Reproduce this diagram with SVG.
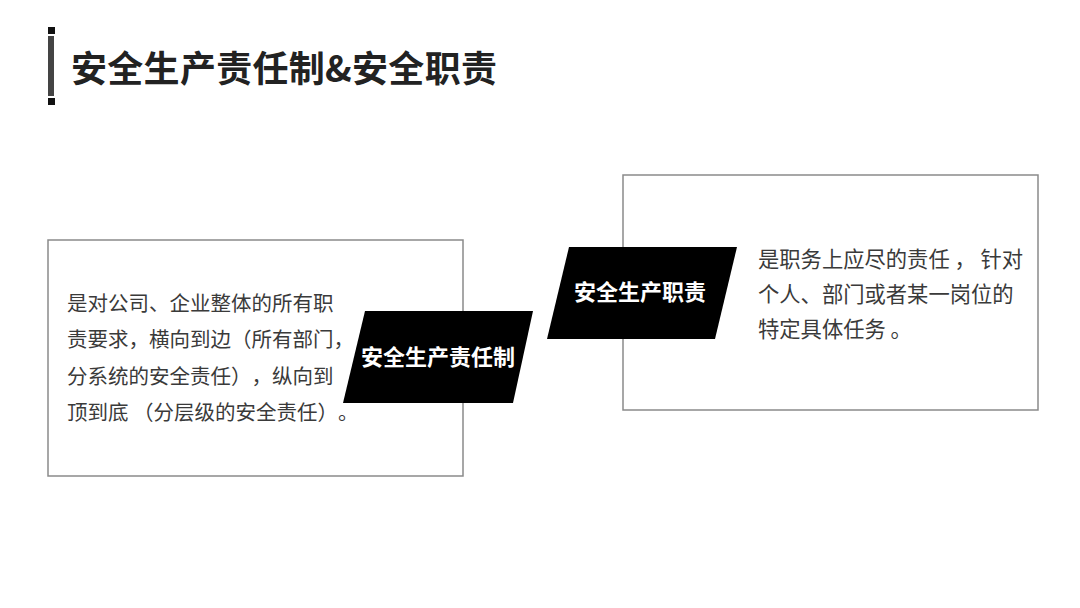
<svg xmlns="http://www.w3.org/2000/svg" width="1080" height="608" viewBox="0 0 1080 608">
<style>
text{text-spacing-trim:space-all;font-kerning:none}
.box{fill:#fff;stroke:#8a8a8a;stroke-width:1.5}
.tag{fill:#000}
.body{font-family:"Noto Sans CJK SC","Noto Sans",sans-serif;font-size:20.5px;fill:#3a3a3a}
.bodyr{font-size:21.3px}
.tagt{font-family:"Noto Sans CJK SC","Noto Sans",sans-serif;font-size:22px;font-weight:bold;fill:#fff;text-anchor:middle}
.title{font-family:"Noto Sans CJK SC","Noto Sans",sans-serif;font-size:36px;font-weight:bold;fill:#222;letter-spacing:0.3px}
</style>
<rect width="1080" height="608" fill="#fff"/>
<g id="title">
<rect x="48" y="27" width="7" height="7" fill="#111"/>
<rect x="48" y="36" width="6" height="60" fill="#444"/>
<rect x="48" y="98" width="7" height="7" fill="#111"/>
<text class="title" x="71" y="82">安全生产责任制&amp;安全职责</text>
</g>
<g id="box-left">
<rect class="box" x="48" y="240" width="415" height="236"/>
<text class="body" x="67" y="311">是对公司、企业整体的所有职</text>
<text class="body" x="67" y="347">责要求，横向到边（所有部门，</text>
<text class="body" x="67" y="384">分系统的安全责任），纵向到</text>
<text class="body" x="67" y="420">顶到底 （分层级的安全责任）。</text>
</g>
<g id="box-right">
<rect class="box" x="623" y="175" width="415" height="235"/>
<text class="body bodyr" x="758" y="267">是职务上应尽的责任 ， 针对</text>
<text class="body bodyr" x="758" y="302">个人、部门或者某一岗位的</text>
<text class="body bodyr" x="758" y="337">特定具体任务 。</text>
</g>
<g id="tag-system">
<polygon class="tag" points="365,311 533,311 513,403 343,403"/>
<text class="tagt" x="438" y="365">安全生产责任制</text>
</g>
<g id="tag-duty">
<polygon class="tag" points="569,247 737,247 715,339 547,339"/>
<text class="tagt" x="640" y="300">安全生产职责</text>
</g>
<g id="connectors"></g>
</svg>
